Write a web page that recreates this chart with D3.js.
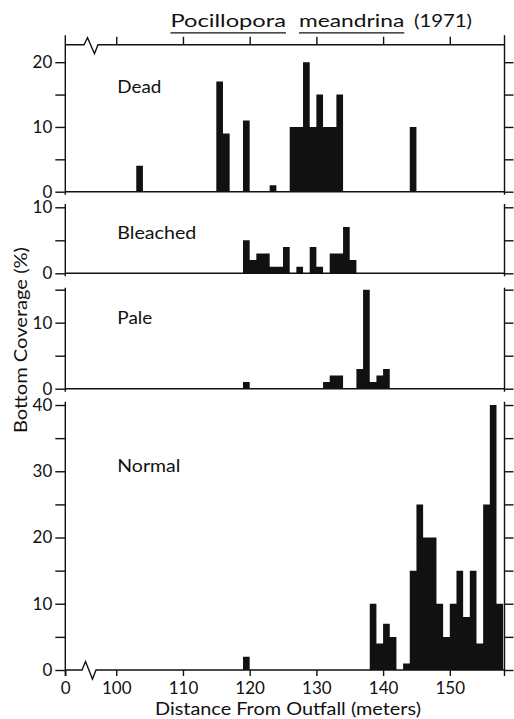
<!DOCTYPE html>
<html>
<head>
<meta charset="utf-8">
<script src="https://cdn.jsdelivr.net/npm/d3@7"></script>
<style>
  html, body { margin: 0; padding: 0; background: #fff; }
  svg { display: block; }
  text { font-family: Lato, "Liberation Sans", sans-serif; fill: #111; }
</style>
</head>
<body>
<svg id="chart" width="514" height="719"></svg>
<script>
// Pocillopora meandrina colony condition along the outfall transect (1971).
// Each bar covers one metre of transect, starting at the listed distance.

const panelNames = ["Dead", "Bleached", "Pale", "Normal"];

const deadMeters = [103, 115, 116, 119, 123, 126, 127, 128, 129, 130, 131, 132, 133, 144];
const deadCover  = [4, 17, 9, 11, 1, 10, 10, 20, 10, 15, 10, 10, 15, 10];

const bleachedMeters = [119, 120, 121, 122, 123, 124, 125, 127, 129, 130, 132, 133, 134, 135];
const bleachedCover  = [5, 2, 3, 3, 1, 1, 4, 1, 4, 1, 3, 3, 7, 2];

const paleMeters = [119, 131, 132, 133, 136, 137, 138, 139, 140];
const paleCover  = [1, 1, 2, 2, 3, 15, 1, 2, 3];

const normalMeters = [119, 138, 139, 140, 141, 143, 144, 145, 146, 147, 148, 149, 150, 151, 152, 153, 154, 155, 156, 157];
const normalCover  = [2, 10, 4, 7, 5, 1, 15, 25, 20, 20, 10, 5, 10, 15, 8, 15, 4, 25, 40, 10];

const xTickValues = [0, 100, 110, 120, 130, 140, 150];
const xTickLabels = ["0", "100", "110", "120", "130", "140", "150"];

const deadTickLabels     = [0, 10, 20];
const bleachedTickLabels = [0, 10];
const paleTickLabels     = [0, 10];
const normalTickLabels   = [0, 10, 20, 30, 40];

const titleWords = ["Pocillopora", "meandrina", "(1971)"];
const xTitle = "Distance From Outfall (meters)";
const yTitle = "Bottom Coverage (%)";

// ---------------------------------------------------------------------------

const ink = "#111";
const font = "Lato, 'Liberation Sans', sans-serif";
const svg = d3.select("#chart");

// Broken distance axis: 0 sits at the frame, then the transect from 100 m on.
const xEnd = 158.2;
const x = d3.scaleLinear().domain([0, 100, xEnd]).range([65.3, 116.25, 504.5]);
const left = x(0), right = x(xEnd);

const panels = [
  { name: panelNames[0], meters: deadMeters, cover: deadCover, max: 22.7,
    base: 191.7, top: 44.7, labels: deadTickLabels, labelY: 93.3, labelW: 44 },
  { name: panelNames[1], meters: bleachedMeters, cover: bleachedCover, max: 10.5,
    base: 273.3, top: 204, labels: bleachedTickLabels, labelY: 239.3, labelW: 79 },
  { name: panelNames[2], meters: paleMeters, cover: paleCover, max: 15.3,
    base: 388.7, top: 287.7, labels: paleTickLabels, labelY: 324, labelW: 35 },
  { name: panelNames[3], meters: normalMeters, cover: normalCover, max: 40.5,
    base: 670, top: 401.7, labels: normalTickLabels, labelY: 471.5, labelW: 63 }
];

const lineW = 1.4;

panels.forEach((p, i) => {
  const y = d3.scaleLinear().domain([0, p.max]).range([p.base, p.top]);
  const g = svg.append("g").attr("class", "panel");
  const isFirst = i === 0, isLast = i === panels.length - 1;

  // Bars: one-metre steps drawn as a single stepped area, so touching bars
  // merge into solid blocks without seams.
  const first = d3.min(p.meters), last = d3.max(p.meters) + 1;
  const steps = d3.range(first, last + 1).map(m => {
    const k = p.meters.indexOf(m);
    return { m, v: k >= 0 ? p.cover[k] : 0 };
  });
  const area = d3.area()
    .x(d => x(d.m))
    .y0(y(0))
    .y1(d => y(d.v))
    .curve(d3.curveStepAfter);
  g.append("path").datum(steps).attr("d", area).attr("fill", ink);

  const ticks5 = d3.range(0, p.max + 0.001, 5);

  // left axis with labels every 10
  const la = d3.axisLeft(y).tickValues(ticks5).tickSize(10).tickPadding(3)
    .tickFormat(d => p.labels.includes(d) ? d : "");
  const lg = g.append("g").attr("transform", `translate(${left},0)`).call(la);
  lg.select(".domain").remove();
  lg.selectAll("line").attr("stroke", ink).attr("stroke-width", lineW);
  lg.selectAll("text").attr("font-size", 17).attr("fill", ink).attr("font-family", font);

  // right axis, ticks only
  const ra = d3.axisRight(y).tickValues(ticks5).tickSize(9).tickFormat("");
  const rg = g.append("g").attr("transform", `translate(${right},0)`).call(ra);
  rg.select(".domain").remove();
  rg.selectAll("line").attr("stroke", ink).attr("stroke-width", lineW);

  // frame sides
  const sideTop = isFirst ? p.top - 9.5 : p.top;
  const sideBottom = p.base + (isLast ? 6 : 3);
  [left, right].forEach(sx => {
    g.append("line").attr("x1", sx).attr("x2", sx)
      .attr("y1", sideTop).attr("y2", sideBottom)
      .attr("stroke", ink).attr("stroke-width", lineW);
  });

  // baseline; the outer edges of the stack carry the axis break
  const lineGen = d3.line();
  const brokenEdge = (yy, up, down, a) => lineGen([
    [left, yy], [a, yy], [a + 3.5, yy - up], [a + 10.5, yy + down], [a + 14, yy], [right, yy]
  ]);
  if (isLast) {
    g.append("path").attr("d", brokenEdge(p.base, 8.5, 9, 82))
      .attr("fill", "none").attr("stroke", ink).attr("stroke-width", lineW)
      .attr("stroke-linejoin", "miter");
  } else {
    g.append("line").attr("x1", left).attr("x2", right)
      .attr("y1", p.base).attr("y2", p.base)
      .attr("stroke", ink).attr("stroke-width", lineW);
  }
  if (isFirst) {
    g.append("path").attr("d", brokenEdge(p.top, 7, 9, 84))
      .attr("fill", "none").attr("stroke", ink).attr("stroke-width", lineW)
      .attr("stroke-linejoin", "miter");
    const ta = d3.axisTop(x).tickValues(xTickValues.slice(1)).tickSize(8).tickFormat("");
    const tg = g.append("g").attr("transform", `translate(0,${p.top})`).call(ta);
    tg.select(".domain").remove();
    tg.selectAll("line").attr("stroke", ink).attr("stroke-width", lineW);
  }
  if (isLast) {
    const ba = d3.axisBottom(x).tickValues(xTickValues).tickSize(6).tickPadding(6)
      .tickFormat((d, k) => xTickLabels[k]);
    const bg = g.append("g").attr("transform", `translate(0,${p.base})`).call(ba);
    bg.select(".domain").remove();
    bg.selectAll("line").attr("stroke", ink).attr("stroke-width", lineW);
    bg.selectAll("text").attr("font-size", 17).attr("fill", ink).attr("font-family", font);
  }

  // condition label
  g.append("text").attr("x", 117.3).attr("y", p.labelY)
    .attr("font-size", 17).attr("textLength", p.labelW).attr("lengthAdjust", "spacingAndGlyphs")
    .text(p.name);
});

// axis titles
svg.append("text")
  .attr("x", 155).attr("y", 714.5)
  .attr("font-size", 17).attr("textLength", 266).attr("lengthAdjust", "spacingAndGlyphs")
  .text(xTitle);

svg.append("text")
  .attr("transform", "translate(26.5,340) rotate(-90)")
  .attr("text-anchor", "middle")
  .attr("font-size", 17).attr("textLength", 186).attr("lengthAdjust", "spacingAndGlyphs")
  .text(yTitle);

// title, with the species name underlined in place of italics
const titleX = [170.5, 299, 414];
const titleW = [115.5, 105.3, 58];
const titleNodes = titleWords.map((w, k) =>
  svg.append("text").attr("x", titleX[k]).attr("y", 27.3)
    .attr("font-size", 17).attr("textLength", titleW[k]).attr("lengthAdjust", "spacingAndGlyphs")
    .text(w).node());

const underline = (node, from, to) => {
  const x1 = node.getStartPositionOfChar(from).x;
  const ext = node.getExtentOfChar(to);
  svg.append("line").attr("x1", x1).attr("x2", ext.x + ext.width)
    .attr("y1", 32.8).attr("y2", 32.8)
    .attr("stroke", ink).attr("stroke-width", 1.3);
};
underline(titleNodes[0], 0, 6);
underline(titleNodes[0], 7, 10);
underline(titleNodes[1], 0, 8);
</script>
</body>
</html>
